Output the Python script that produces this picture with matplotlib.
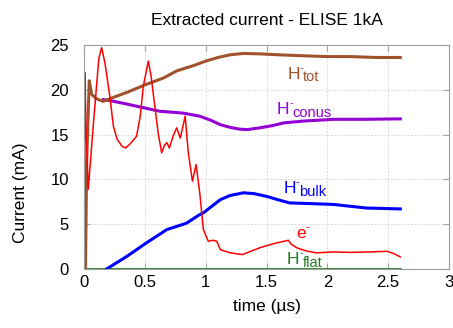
import numpy as np
import matplotlib
matplotlib.use('Agg')
from matplotlib import pyplot as plt

plt.rcParams['font.family'] = ['Liberation Sans', 'DejaVu Sans']

# H- total (brown)
t_tot = [0.01, 0.02, 0.041, 0.06, 0.1, 0.156, 0.25, 0.35, 0.51, 0.65, 0.76, 0.9, 1.0, 1.1, 1.2, 1.31, 1.45, 1.6, 1.78, 2.0, 2.19, 2.4, 2.6]
y_tot = [0.0, 12.0, 21.0, 19.5, 19.0, 18.7, 19.2, 19.7, 20.6, 21.3, 22.1, 22.7, 23.2, 23.6, 23.9, 24.05, 24.0, 23.9, 23.8, 23.7, 23.7, 23.6, 23.6]

# H- conus (purple)
t_con = [0.156, 0.21, 0.35, 0.486, 0.62, 0.81, 0.95, 1.04, 1.12, 1.2, 1.28, 1.34, 1.445, 1.55, 1.64, 1.8, 2.05, 2.3, 2.6]
y_con = [18.9, 18.8, 18.4, 18.0, 17.6, 17.4, 17.05, 16.6, 16.1, 15.8, 15.6, 15.55, 15.75, 16.0, 16.3, 16.5, 16.7, 16.7, 16.75]

# H- bulk (blue)
t_bulk = [0.184, 0.35, 0.51, 0.68, 0.84, 0.95, 0.98, 1.05, 1.12, 1.2, 1.31, 1.4, 1.5, 1.6, 1.69, 1.85, 2.05, 2.32, 2.6]
y_bulk = [0.0, 1.4, 2.9, 4.4, 5.1, 6.07, 6.26, 7.0, 7.74, 8.2, 8.5, 8.4, 8.1, 7.7, 7.37, 7.3, 7.2, 6.8, 6.7]

# electrons (red)
t_e = [0.0, 0.005, 0.015, 0.033, 0.08, 0.12, 0.143, 0.17, 0.21, 0.24, 0.27, 0.31, 0.34, 0.38, 0.43, 0.46, 0.486, 0.527, 0.55, 0.58, 0.61, 0.637, 0.66, 0.68, 0.70, 0.73, 0.76, 0.79, 0.83, 0.856, 0.89, 0.92, 0.95, 0.98, 1.02, 1.06, 1.09, 1.12, 1.2, 1.3, 1.45, 1.58, 1.68, 1.7, 1.75, 1.83, 1.91, 2.05, 2.19, 2.35, 2.49, 2.55, 2.6]
y_e = [0.0, 21.9, 15.0, 8.9, 17.0, 23.5, 24.7, 23.0, 19.3, 15.9, 14.5, 13.7, 13.5, 14.0, 14.8, 17.0, 20.4, 23.2, 21.5, 18.2, 15.0, 12.96, 13.8, 14.1, 13.5, 14.8, 15.75, 14.6, 17.05, 12.96, 9.8, 11.65, 8.5, 4.4, 3.1, 3.2, 3.1, 2.15, 1.8, 1.6, 2.4, 2.9, 3.2, 2.8, 2.35, 2.0, 1.8, 1.9, 1.85, 1.9, 1.97, 1.7, 1.34]

# H- flat (green)
t_flat = [0.0, 2.6]
y_flat = [0.0, 0.0]

# curve labels: base, subscript, colour, baseline position
lab_base = ['H', 'H', 'H', 'e', 'H']
lab_sub = ['tot', 'conus', 'bulk', '', 'flat']
lab_col = ['#a0522d', '#9400d3', '#0000ff', '#ff0000', '#1f7a1f']
lab_x = [1.671, 1.584, 1.638, 1.742, 1.666]
lab_y = [21.23, 17.3, 8.49, 3.46, 0.56]

fig = plt.figure(figsize=(4.53, 3.28), dpi=100)
ax = fig.add_axes([0.186, 0.18, 0.805, 0.683])

ax.plot(t_flat, y_flat, color='#1f7a1f', lw=2)
ax.plot(t_bulk, y_bulk, color='#0000ff', lw=2.2)
ax.plot(t_con, y_con, color='#9400d3', lw=2.2)
ax.plot(t_tot, y_tot, color='#a0522d', lw=2.2)
ax.plot(t_e, y_e, color='#ff0000', lw=1.1)

for b, sb, c, x, y in zip(lab_base, lab_sub, lab_col, lab_x, lab_y):
    ax.text(x, y, b, color=c, fontsize=12.5, va='baseline', ha='left')
    adv = 9.0 if b == 'H' else 7.0
    ax.annotate('-', (x, y), xytext=(adv, 5.8), textcoords='offset points',
                color=c, fontsize=8, va='baseline', ha='left')
    if sb:
        ax.annotate(sb, (x, y), xytext=(adv + 2.4, -2), textcoords='offset points',
                    color=c, fontsize=10.5, va='baseline', ha='left')

ax.set_xlim(0, 3)
ax.set_ylim(0, 25)
ax.set_xticks([0, 0.5, 1, 1.5, 2, 2.5, 3])
ax.set_xticklabels(['0', '0.5', '1', '1.5', '2', '2.5', '3'])
ax.set_yticks([0, 5, 10, 15, 20, 25])
ax.tick_params(direction='in', length=4, color='#a0a0a0', labelsize=12, top=True, right=True)
ax.tick_params(axis='x', pad=4)
ax.tick_params(axis='y', pad=11)
for s in ax.spines.values():
    s.set_color('#a0a0a0')
    s.set_linewidth(0.8)
ax.grid(True, color='#d0d0d0', ls=(0, (2, 2)), lw=0.6)
ax.set_axisbelow(True)

ax.set_xlabel('time (µs)', fontsize=12.5, labelpad=7)
ax.set_ylabel('Current (mA)', fontsize=12.5)
ax.yaxis.set_label_coords(-0.154, 0.34)
ax.set_title('Extracted current - ELISE 1kA', fontsize=12.5, pad=14)

fig.savefig('out.png', dpi=100)
